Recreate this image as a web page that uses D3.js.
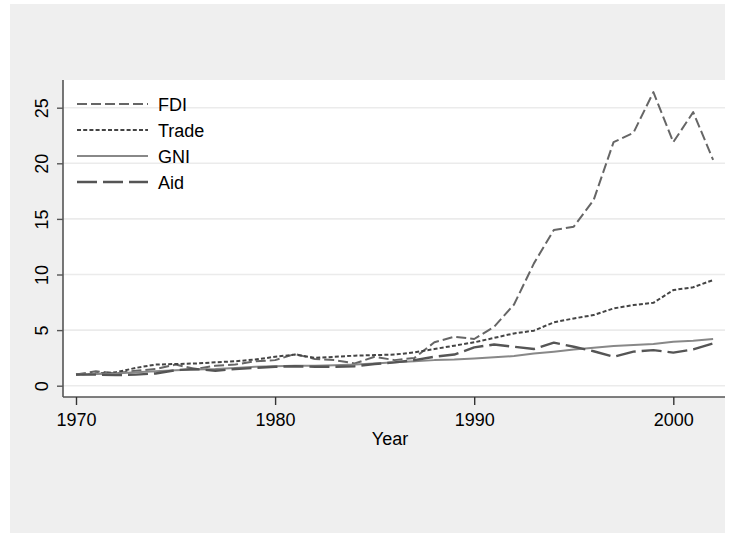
<!DOCTYPE html>
<html><head><meta charset="utf-8">
<script src="https://cdnjs.cloudflare.com/ajax/libs/d3/7.8.5/d3.min.js"></script>
<style>body{margin:0;background:#fff}svg{display:block}text{font-family:"Liberation Sans",Arial,sans-serif}</style>
</head><body><svg id="c" width="732" height="533"></svg>
<script>
const years = d3.range(1970, 2003);
const fdi   = [1.0,1.3,1.1,1.35,1.5,1.9,1.5,1.8,1.9,2.2,2.3,2.85,2.4,2.3,2.0,2.6,2.3,2.5,3.9,4.4,4.2,5.3,7.3,11.0,14.0,14.3,16.7,21.9,22.75,26.4,21.9,24.6,20.3];
const trade = [1.0,1.1,1.2,1.6,1.9,1.95,2.0,2.1,2.2,2.35,2.6,2.8,2.5,2.6,2.7,2.75,2.8,3.0,3.3,3.6,3.9,4.3,4.7,4.95,5.7,6.05,6.35,6.95,7.25,7.45,8.6,8.85,9.5];
const gni   = [1.0,1.05,1.1,1.2,1.3,1.4,1.45,1.5,1.6,1.7,1.75,1.8,1.8,1.85,1.9,2.0,2.1,2.2,2.3,2.35,2.45,2.55,2.67,2.9,3.06,3.25,3.42,3.57,3.65,3.75,3.96,4.05,4.2];
const aid   = [1.0,1.0,0.95,1.0,1.1,1.4,1.5,1.35,1.5,1.6,1.7,1.75,1.7,1.7,1.75,1.95,2.1,2.3,2.6,2.8,3.45,3.7,3.5,3.3,3.87,3.5,3.1,2.6,3.06,3.2,2.97,3.27,3.8];
const yTicks = [0,5,10,15,20,25];
const xTicks = [1970,1980,1990,2000];
const seriesNames = ["FDI","Trade","GNI","Aid"];

const series = [
  {name:seriesNames[0], values:fdi,   color:"#666666", width:2,   dash:"10,4"},
  {name:seriesNames[1], values:trade, color:"#444444", width:2,   dash:"4,2.2"},
  {name:seriesNames[2], values:gni,   color:"#888888", width:2,   dash:null},
  {name:seriesNames[3], values:aid,   color:"#555555", width:2.4, dash:"20,6"}
];

const svg = d3.select("#c");
svg.append("rect").attr("x",10).attr("y",4).attr("width",715).attr("height",529).attr("fill","#efefef");
const L=63, R=725, T=80, B=397;
svg.append("rect").attr("x",L).attr("y",T).attr("width",R-L).attr("height",B-T).attr("fill","#ffffff");

const x = d3.scaleLinear().domain([1970,2000]).range([76,673.3]);
const y = d3.scaleLinear().domain([0,25]).range([385.7,107.7]);

// gridlines
svg.append("g").selectAll("line").data(yTicks).join("line")
  .attr("x1",L).attr("x2",R).attr("y1",d=>y(d)).attr("y2",d=>y(d))
  .attr("stroke","#ebebeb").attr("stroke-width",1.6);

// y axis
const yAxis = svg.append("g").attr("transform",`translate(${L},0)`)
  .call(d3.axisLeft(y).tickValues(yTicks).tickSize(6).tickPadding(0).tickFormat(d3.format("d")));
yAxis.select(".domain").attr("d",`M0,${T}V${B}`).attr("stroke","#555").attr("stroke-width",1.6);
yAxis.selectAll(".tick line").attr("stroke","#555").attr("stroke-width",1.4);
yAxis.selectAll(".tick text").attr("transform","rotate(-90)").attr("x",0).attr("y",-15)
  .attr("dy",0).attr("text-anchor","middle").attr("font-size",18).attr("fill","#000");

// x axis
const xAxis = svg.append("g").attr("transform",`translate(0,${B})`)
  .call(d3.axisBottom(x).tickValues(xTicks).tickSize(8).tickPadding(8).tickFormat(d3.format("d")));
xAxis.select(".domain").attr("d",`M${L},0H${R}`).attr("stroke","#555").attr("stroke-width",1.6);
xAxis.selectAll(".tick line").attr("stroke","#333").attr("stroke-width",1.4);
xAxis.selectAll(".tick text").attr("font-size",18).attr("fill","#000");

svg.append("text").attr("x",(L+R)/2-4).attr("y",445).attr("text-anchor","middle")
  .attr("font-size",18).attr("fill","#000").text("Year");

// lines
const line = d3.line().x((d,i)=>x(years[i])).y(d=>y(d));
series.forEach(s=>{
  svg.append("path").datum(s.values).attr("d",line).attr("fill","none")
    .attr("stroke",s.color).attr("stroke-width",s.width)
    .attr("stroke-dasharray",s.dash).attr("stroke-linejoin","round");
});

// legend
const lg = svg.append("g");
series.forEach((s,i)=>{
  const yy = 104 + i*26;
  lg.append("line").attr("x1",77).attr("x2",148).attr("y1",yy).attr("y2",yy)
    .attr("stroke",s.color).attr("stroke-width",s.width).attr("stroke-dasharray",s.dash);
  lg.append("text").attr("x",158).attr("y",yy+7).attr("font-size",18).attr("fill","#000").text(s.name);
});
</script></body></html>
